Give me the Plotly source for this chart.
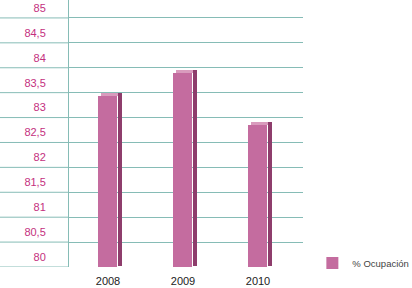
import plotly.graph_objects as go

years = ["2008", "2009", "2010"]
ocupacion = [83.23, 83.69, 82.65]
tick_vals = [80, 80.5, 81, 81.5, 82, 82.5, 83, 83.5, 84, 84.5, 85]
tick_text = ["80", "80,5", "81", "81,5", "82", "82,5", "83", "83,5", "84", "84,5", "85"]

Y_MIN, Y_MAX = 79.8, 85.16
GRID_OFFSET = -0.2
grid_vals = [round(v + GRID_OFFSET, 2) for v in tick_vals]

FACE = "#c46c9f"
SIDE = "#8e3d6c"
TOP = "#d99bbd"
GRID = "#86bcb6"
LABEL = "#c4307e"
FONT = "Liberation Sans Narrow, Liberation Sans, Arial"

xi = list(range(len(years)))
fig = go.Figure()
# top face (light)
fig.add_trace(go.Bar(x=xi, y=[0.06] * 3, base=ocupacion, width=0.253, offset=-0.10,
                     marker=dict(color=TOP, line=dict(width=0)), showlegend=False, hoverinfo="skip"))
# side face (dark)
fig.add_trace(go.Bar(x=xi, y=[v + 0.06 - 79.83 for v in ocupacion], base=79.83, width=0.053, offset=0.127,
                     marker=dict(color=SIDE, line=dict(width=0)), showlegend=False, hoverinfo="skip"))
# front face
fig.add_trace(go.Bar(x=xi, y=ocupacion, width=0.253, offset=-0.127, name="% Ocupación",
                     marker=dict(color=FACE, line=dict(width=0))))

plot_w = 303 - 69
shapes = []
for g in grid_vals:
    if g <= Y_MAX:
        shapes.append(dict(type="line", xref="paper", yref="y", x0=-69 / plot_w, x1=0,
                           y0=g, y1=g, line=dict(color=GRID, width=1), layer="below"))

fig.update_layout(
    width=412, height=288,
    margin=dict(l=69, r=412 - 303, t=0, b=21, autoexpand=False),
    paper_bgcolor="white", plot_bgcolor="white",
    barmode="overlay",
    shapes=shapes,
    font=dict(family=FONT, size=11, color="#222222"),
    xaxis=dict(range=[-0.52, 2.6], tickvals=xi, ticktext=years, showgrid=False,
               showline=False, zeroline=False, ticks="", ticklabelstandoff=6,
               tickfont=dict(size=11, color="#222222")),
    yaxis=dict(range=[Y_MIN, Y_MAX], tickvals=tick_vals, ticktext=tick_text, showgrid=False,
               zeroline=False, showline=True, linecolor=GRID, linewidth=1, ticks="",
               ticklabelstandoff=20, tickfont=dict(size=11, color=LABEL),
               minor=dict(tickvals=grid_vals, showgrid=True, gridcolor=GRID, gridwidth=1, ticks="")),
    legend=dict(x=1.04, y=0.015, xanchor="left", yanchor="middle", bgcolor="rgba(0,0,0,0)",
                font=dict(size=9.5, color="#444444"), itemwidth=30, borderwidth=0),
    bargap=0,
)
fig.write_html("out.html")
